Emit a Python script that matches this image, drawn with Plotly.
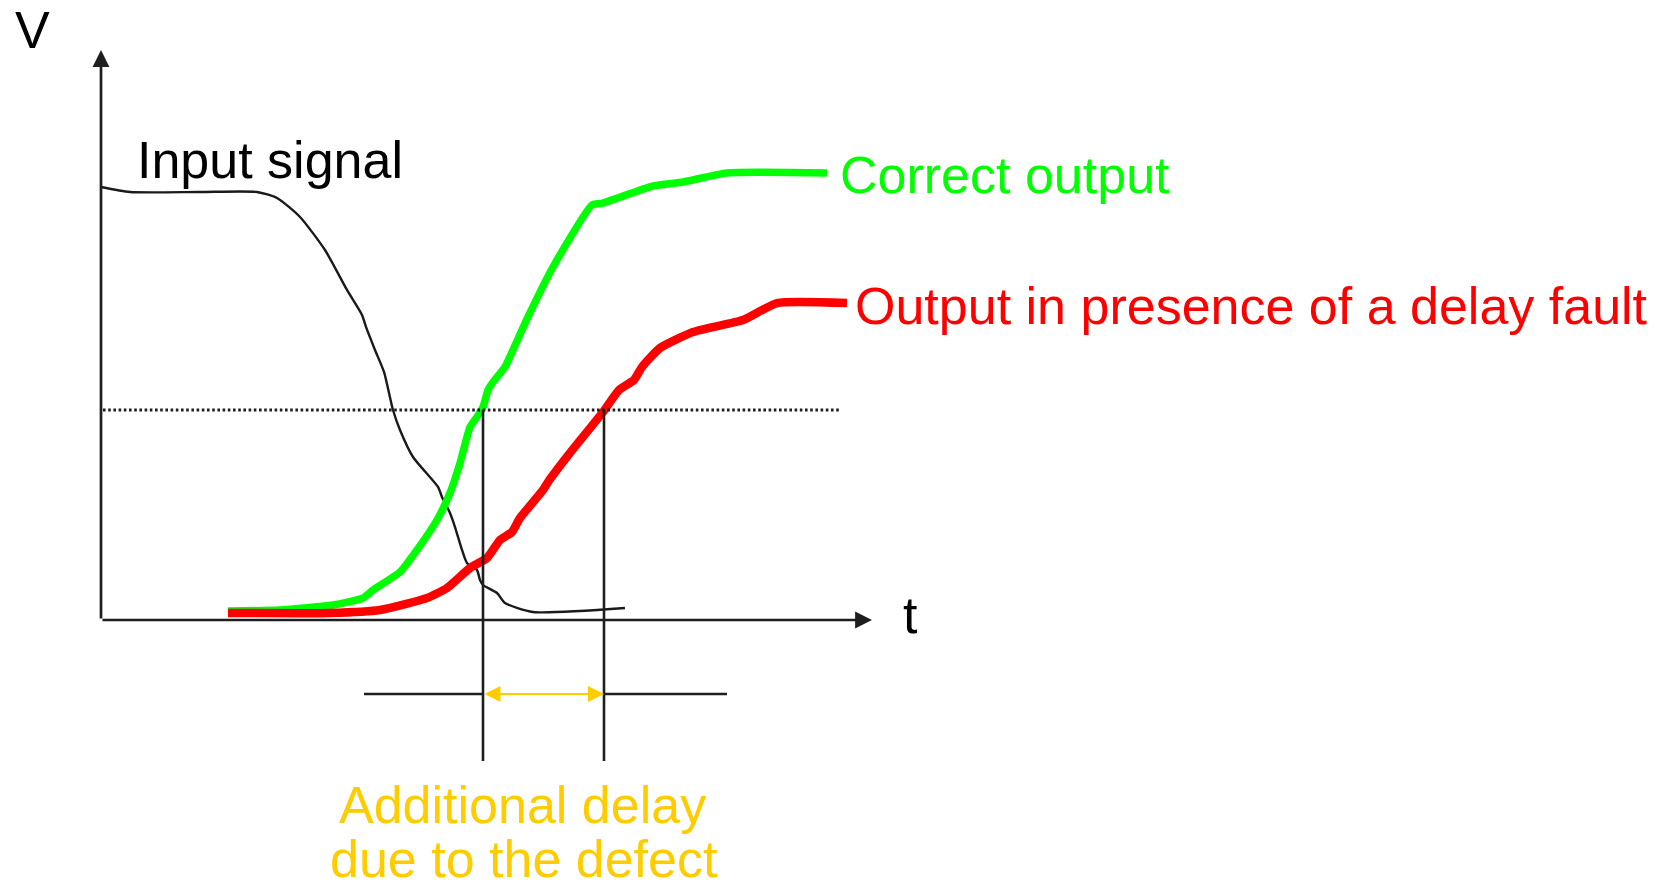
import plotly.graph_objects as go

# ---------------- data (t in ns, V in volts) ----------------
input_t = [0.0, 0.58, 1.98, 3.12, 3.52, 3.98, 4.48, 4.92, 5.22, 5.30, 5.48, 5.66, 5.84,
           5.98, 6.24, 6.74, 6.82, 6.98, 7.08, 7.22, 7.32, 7.52, 7.58, 7.64, 7.92, 8.08,
           8.64, 10.48]
input_v = [4.811, 4.756, 4.756, 4.756, 4.689, 4.478, 4.111, 3.667, 3.389, 3.256, 3.0,
           2.756, 2.333, 2.111, 1.811, 1.478, 1.367, 1.189, 1.033, 0.778, 0.633, 0.556,
           0.444, 0.389, 0.300, 0.189, 0.089, 0.133]

correct_t = [2.54, 3.58, 4.64, 5.24, 5.44, 5.98, 6.32, 6.72, 6.98, 7.18, 7.38, 7.52, 7.64,
             7.74, 7.84, 8.08, 8.24, 8.54, 9.04, 9.82, 10.04, 11.04, 11.64, 12.52, 14.52]
correct_v = [0.10, 0.111, 0.167, 0.244, 0.333, 0.533, 0.778, 1.111, 1.411, 1.744, 2.144,
             2.256, 2.367, 2.556, 2.644, 2.811, 3.0, 3.367, 3.922, 4.611, 4.633, 4.822,
             4.867, 4.967, 4.967]

faulty_t = [2.54, 4.58, 5.58, 6.52, 6.92, 7.38, 7.72, 7.98, 8.22, 8.38, 8.84, 8.94, 9.38,
            10.04, 10.36, 10.66, 10.82, 11.18, 11.84, 12.84, 13.52, 14.92]
faulty_v = [0.078, 0.078, 0.111, 0.244, 0.356, 0.578, 0.689, 0.889, 0.978, 1.133, 1.444,
            1.533, 1.856, 2.311, 2.556, 2.667, 2.811, 3.022, 3.2, 3.333, 3.522, 3.522]

threshold_v = 2.333          # switching threshold (dotted line)
threshold_span = [0.04, 14.78]
t_cross_correct = 7.64       # correct output crosses threshold
t_cross_faulty = 10.06       # faulty output crosses threshold
marker_bottom_v = -1.567     # bottom of the vertical markers
delay_line_v = -0.822        # level of the delay measurement line
delay_line_span = [5.26, 12.52]
t_axis_end = 15.42
v_axis_end = 6.333

label_input = "Input signal"
label_correct = "Correct output"
label_faulty = "Output in presence of a delay fault"
label_delay = ["Additional delay", "due to the defect"]

# ---------------- styling ----------------
FONT = "Liberation Sans, Arial, sans-serif"
FS = 52
AXC = "#1e1e1e"
GREEN = "#00ff00"
RED = "#ff0000"
YELLOW = "#ffcc00"

fig = go.Figure()
fig.add_trace(go.Scatter(x=input_t, y=input_v, mode="lines",
                         line=dict(color="#1a1a1a", width=2.4, shape="spline", smoothing=0.6),
                         hoverinfo="skip"))
fig.add_trace(go.Scatter(x=correct_t, y=correct_v, mode="lines",
                         line=dict(color=GREEN, width=7.5, shape="spline", smoothing=0.5),
                         hoverinfo="skip"))
fig.add_trace(go.Scatter(x=faulty_t, y=faulty_v, mode="lines",
                         line=dict(color=RED, width=8.5, shape="spline", smoothing=0.5),
                         hoverinfo="skip"))

shapes = [
    dict(type="line", xref="x", yref="y", x0=threshold_span[0], x1=threshold_span[1],
         y0=threshold_v, y1=threshold_v, line=dict(color=AXC, width=3, dash="2.6px,2.6px"),
         layer="above"),
    dict(type="line", xref="x", yref="y", x0=t_cross_correct, x1=t_cross_correct,
         y0=threshold_v, y1=marker_bottom_v, line=dict(color=AXC, width=2.6), layer="above"),
    dict(type="line", xref="x", yref="y", x0=t_cross_faulty, x1=t_cross_faulty,
         y0=threshold_v, y1=marker_bottom_v, line=dict(color=AXC, width=2.6), layer="above"),
    dict(type="line", xref="x", yref="y", x0=delay_line_span[0], x1=t_cross_correct,
         y0=delay_line_v, y1=delay_line_v, line=dict(color=AXC, width=2.6), layer="above"),
    dict(type="line", xref="x", yref="y", x0=t_cross_faulty, x1=delay_line_span[1],
         y0=delay_line_v, y1=delay_line_v, line=dict(color=AXC, width=2.6), layer="above"),
]

annotations = [
    # axes arrows
    dict(x=0, y=v_axis_end, ax=0, ay=0, xref="x", yref="y", axref="x", ayref="y",
         showarrow=True, arrowhead=2, arrowsize=1.25, arrowwidth=2.7, arrowcolor=AXC, text=""),
    dict(x=t_axis_end, y=0, ax=0, ay=0, xref="x", yref="y", axref="x", ayref="y",
         showarrow=True, arrowhead=2, arrowsize=1.25, arrowwidth=2.7, arrowcolor=AXC, text=""),
    # delay double arrow
    dict(x=t_cross_faulty, y=delay_line_v, ax=t_cross_correct, ay=delay_line_v,
         xref="x", yref="y", axref="x", ayref="y", showarrow=True,
         arrowhead=2, arrowsize=1.6, arrowwidth=2, arrowside="end+start",
         startarrowhead=2, startarrowsize=1.6, arrowcolor=YELLOW, text=""),
    # texts
    dict(x=-1.37, y=6.556, xref="x", yref="y", text="V", showarrow=False,
         xanchor="center", yanchor="middle", font=dict(family=FONT, size=FS, color="black")),
    dict(x=16.18, y=0.056, xref="x", yref="y", text="t", showarrow=False,
         xanchor="center", yanchor="middle", font=dict(family=FONT, size=FS, color="black")),
    dict(x=0.68, y=5.106, xref="x", yref="y", text=label_input, showarrow=False,
         xanchor="left", yanchor="middle", font=dict(family=FONT, size=FS, color="black")),
    dict(x=14.74, y=4.944, xref="x", yref="y", text=label_correct, showarrow=False,
         xanchor="left", yanchor="middle", font=dict(family=FONT, size=FS, color=GREEN)),
    dict(x=15.04, y=3.489, xref="x", yref="y", text=label_faulty, showarrow=False,
         xanchor="left", yanchor="middle", font=dict(family=FONT, size=FS, color=RED)),
    dict(x=8.43, y=-2.056, xref="x", yref="y", text=label_delay[0], showarrow=False,
         xanchor="center", yanchor="middle", font=dict(family=FONT, size=FS, color=YELLOW)),
    dict(x=8.45, y=-2.66, xref="x", yref="y", text=label_delay[1], showarrow=False,
         xanchor="center", yanchor="middle", font=dict(family=FONT, size=FS, color=YELLOW)),
]

fig.update_layout(
    width=1667, height=888,
    margin=dict(l=0, r=0, t=0, b=0),
    paper_bgcolor="white", plot_bgcolor="white",
    showlegend=False,
    xaxis=dict(range=[-2.02, 31.32], visible=False, fixedrange=True),
    yaxis=dict(range=[-2.9778, 6.8889], visible=False, fixedrange=True),
    shapes=shapes, annotations=annotations,
)

fig.write_html("out.html", config={"displayModeBar": False},
               post_script="document.body.style.margin='0';document.body.style.overflow='hidden';")
